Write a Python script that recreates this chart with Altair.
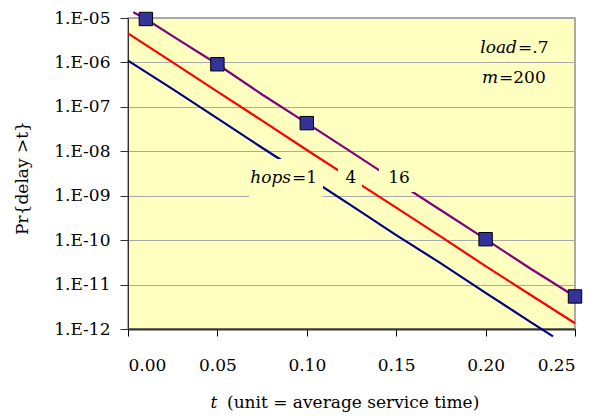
import altair as alt
import pandas as pd

# ---- data ----
hops_labels = ["1", "4", "16"]

hops1_t = [0.0, 0.025, 0.05, 0.075, 0.1, 0.125, 0.15, 0.175, 0.2, 0.225, 0.2377]
hops1_v = [1.1e-6, 2.5e-7, 5.5e-8, 1.2e-8, 2.7e-9, 6.0e-10, 1.3e-10, 3.0e-11, 6.5e-12, 1.45e-12, 6.8e-13]

hops4_t = [0.0, 0.025, 0.05, 0.075, 0.1, 0.125, 0.15, 0.175, 0.2, 0.225, 0.25]
hops4_v = [4.5e-6, 1.0e-6, 2.2e-7, 4.9e-8, 1.07e-8, 2.4e-9, 5.4e-10, 1.2e-10, 2.6e-11, 5.9e-12, 1.35e-12]

hops16_t = [0.003, 0.01, 0.025, 0.05, 0.075, 0.1, 0.125, 0.15, 0.175, 0.2, 0.225, 0.25]
hops16_v = [1.35e-5, 9.5e-6, 3.9e-6, 9.1e-7, 1.9e-7, 4.3e-8, 9.6e-9, 2.1e-9, 4.7e-10, 1.05e-10, 2.3e-11, 5.4e-12]

marker_t = [0.01, 0.05, 0.1, 0.2, 0.25]
marker_v = [9.5e-6, 9.1e-7, 4.3e-8, 1.05e-10, 5.4e-12]

x_ticks = [0.0, 0.05, 0.10, 0.15, 0.20, 0.25]
y_ticks = [1e-12, 1e-11, 1e-10, 1e-9, 1e-8, 1e-7, 1e-6, 1e-5]

colors = ["#000080", "#FF0000", "#800080"]
BG = "#FFFFC0"
FONT = "DejaVu Serif"

series = {"1": (hops1_t, hops1_v), "4": (hops4_t, hops4_v), "16": (hops16_t, hops16_v)}

xs = alt.Scale(domain=[0, 0.25], nice=False, zero=False)
ys = alt.Scale(type="log", domain=[1e-12, 1e-5], nice=False)

x_axis = alt.Axis(values=x_ticks, format=".2f", grid=False, title=None,
                  labelFont=FONT, labelFontSize=17, labelColor="black",
                  tickColor="black", tickSize=7, tickWidth=1,
                  domainColor="#303030", domainWidth=2, labelPadding=21)
y_axis = alt.Axis(values=y_ticks, title=None, grid=True, gridColor="#A8A8A8", gridWidth=1,
                  labelExpr="'1.E-' + (abs(round(log(datum.value)/LN10)) < 10 ? '0' : '') + abs(round(log(datum.value)/LN10))",
                  labelFont=FONT, labelFontSize=17, labelColor="black",
                  tickColor="#303030", tickSize=8, domainColor="#303030", domainWidth=1,
                  labelPadding=10)

X = alt.X("t:Q", scale=xs, axis=x_axis)
Y = alt.Y("v:Q", scale=ys, axis=y_axis)

one = alt.Data(values=[{}])


def line_layer(h, idx):
    t, v = series[h]
    df = pd.DataFrame({"t": t, "v": v, "hops": h})
    return alt.Chart(df).mark_line(strokeWidth=2.2, clip=False, color=colors[idx]).encode(
        x=X, y=Y, order="t:Q",
    )


def box(x1, x2, y1, y2):
    return alt.Chart(one).mark_rect(fill=BG).encode(
        x=alt.value(x1), x2=alt.value(x2), y=alt.value(y1), y2=alt.value(y2))


def txt(s, x, y, align="left", italic=False, size=17, angle=0):
    kw = dict(text=s, align=align, baseline="alphabetic", font=FONT, fontSize=size,
              color="black", fontStyle="italic" if italic else "normal")
    if angle:
        kw["angle"] = angle
    return alt.Chart(one).mark_text(**kw).encode(x=alt.value(x), y=alt.value(y))


markers = alt.Chart(pd.DataFrame({"t": marker_t, "v": marker_v})).mark_square(
    size=180, fill="#333399", stroke="black", strokeWidth=1, opacity=1, clip=False
).encode(x=X, y=Y)

layers = [
    line_layer("1", 0),
    box(121, 195, 141, 179),
    txt("hops", 163, 165, align="right", italic=True),
    txt("=1", 164, 165),
    line_layer("4", 1),
    box(210, 234, 141, 177),
    txt("4", 223, 165, align="center"),
    line_layer("16", 2),
    box(251, 288, 141, 174),
    txt("16", 271, 165, align="center"),
    markers,
    txt("load", 389, 35, align="right", italic=True),
    txt("=.7", 390, 35),
    txt("m", 370, 65, align="right", italic=True),
    txt("=200", 371, 65),
    txt("t", 86, 390, align="center", italic=True),
    txt("(unit = average service time)", 99, 390),
    txt("Pr{delay >t}", -100, 160, align="center", angle=270),
]

chart = alt.layer(*layers).properties(
    width=447, height=311,
    autosize=alt.AutoSizeParams(type="none"),
    padding={"left": 120, "top": 10, "right": 15, "bottom": 88},
).configure_view(fill=BG, stroke="#909090", strokeWidth=1.5)

chart.save("out.html", embed_options={"renderer": "svg", "actions": False})
